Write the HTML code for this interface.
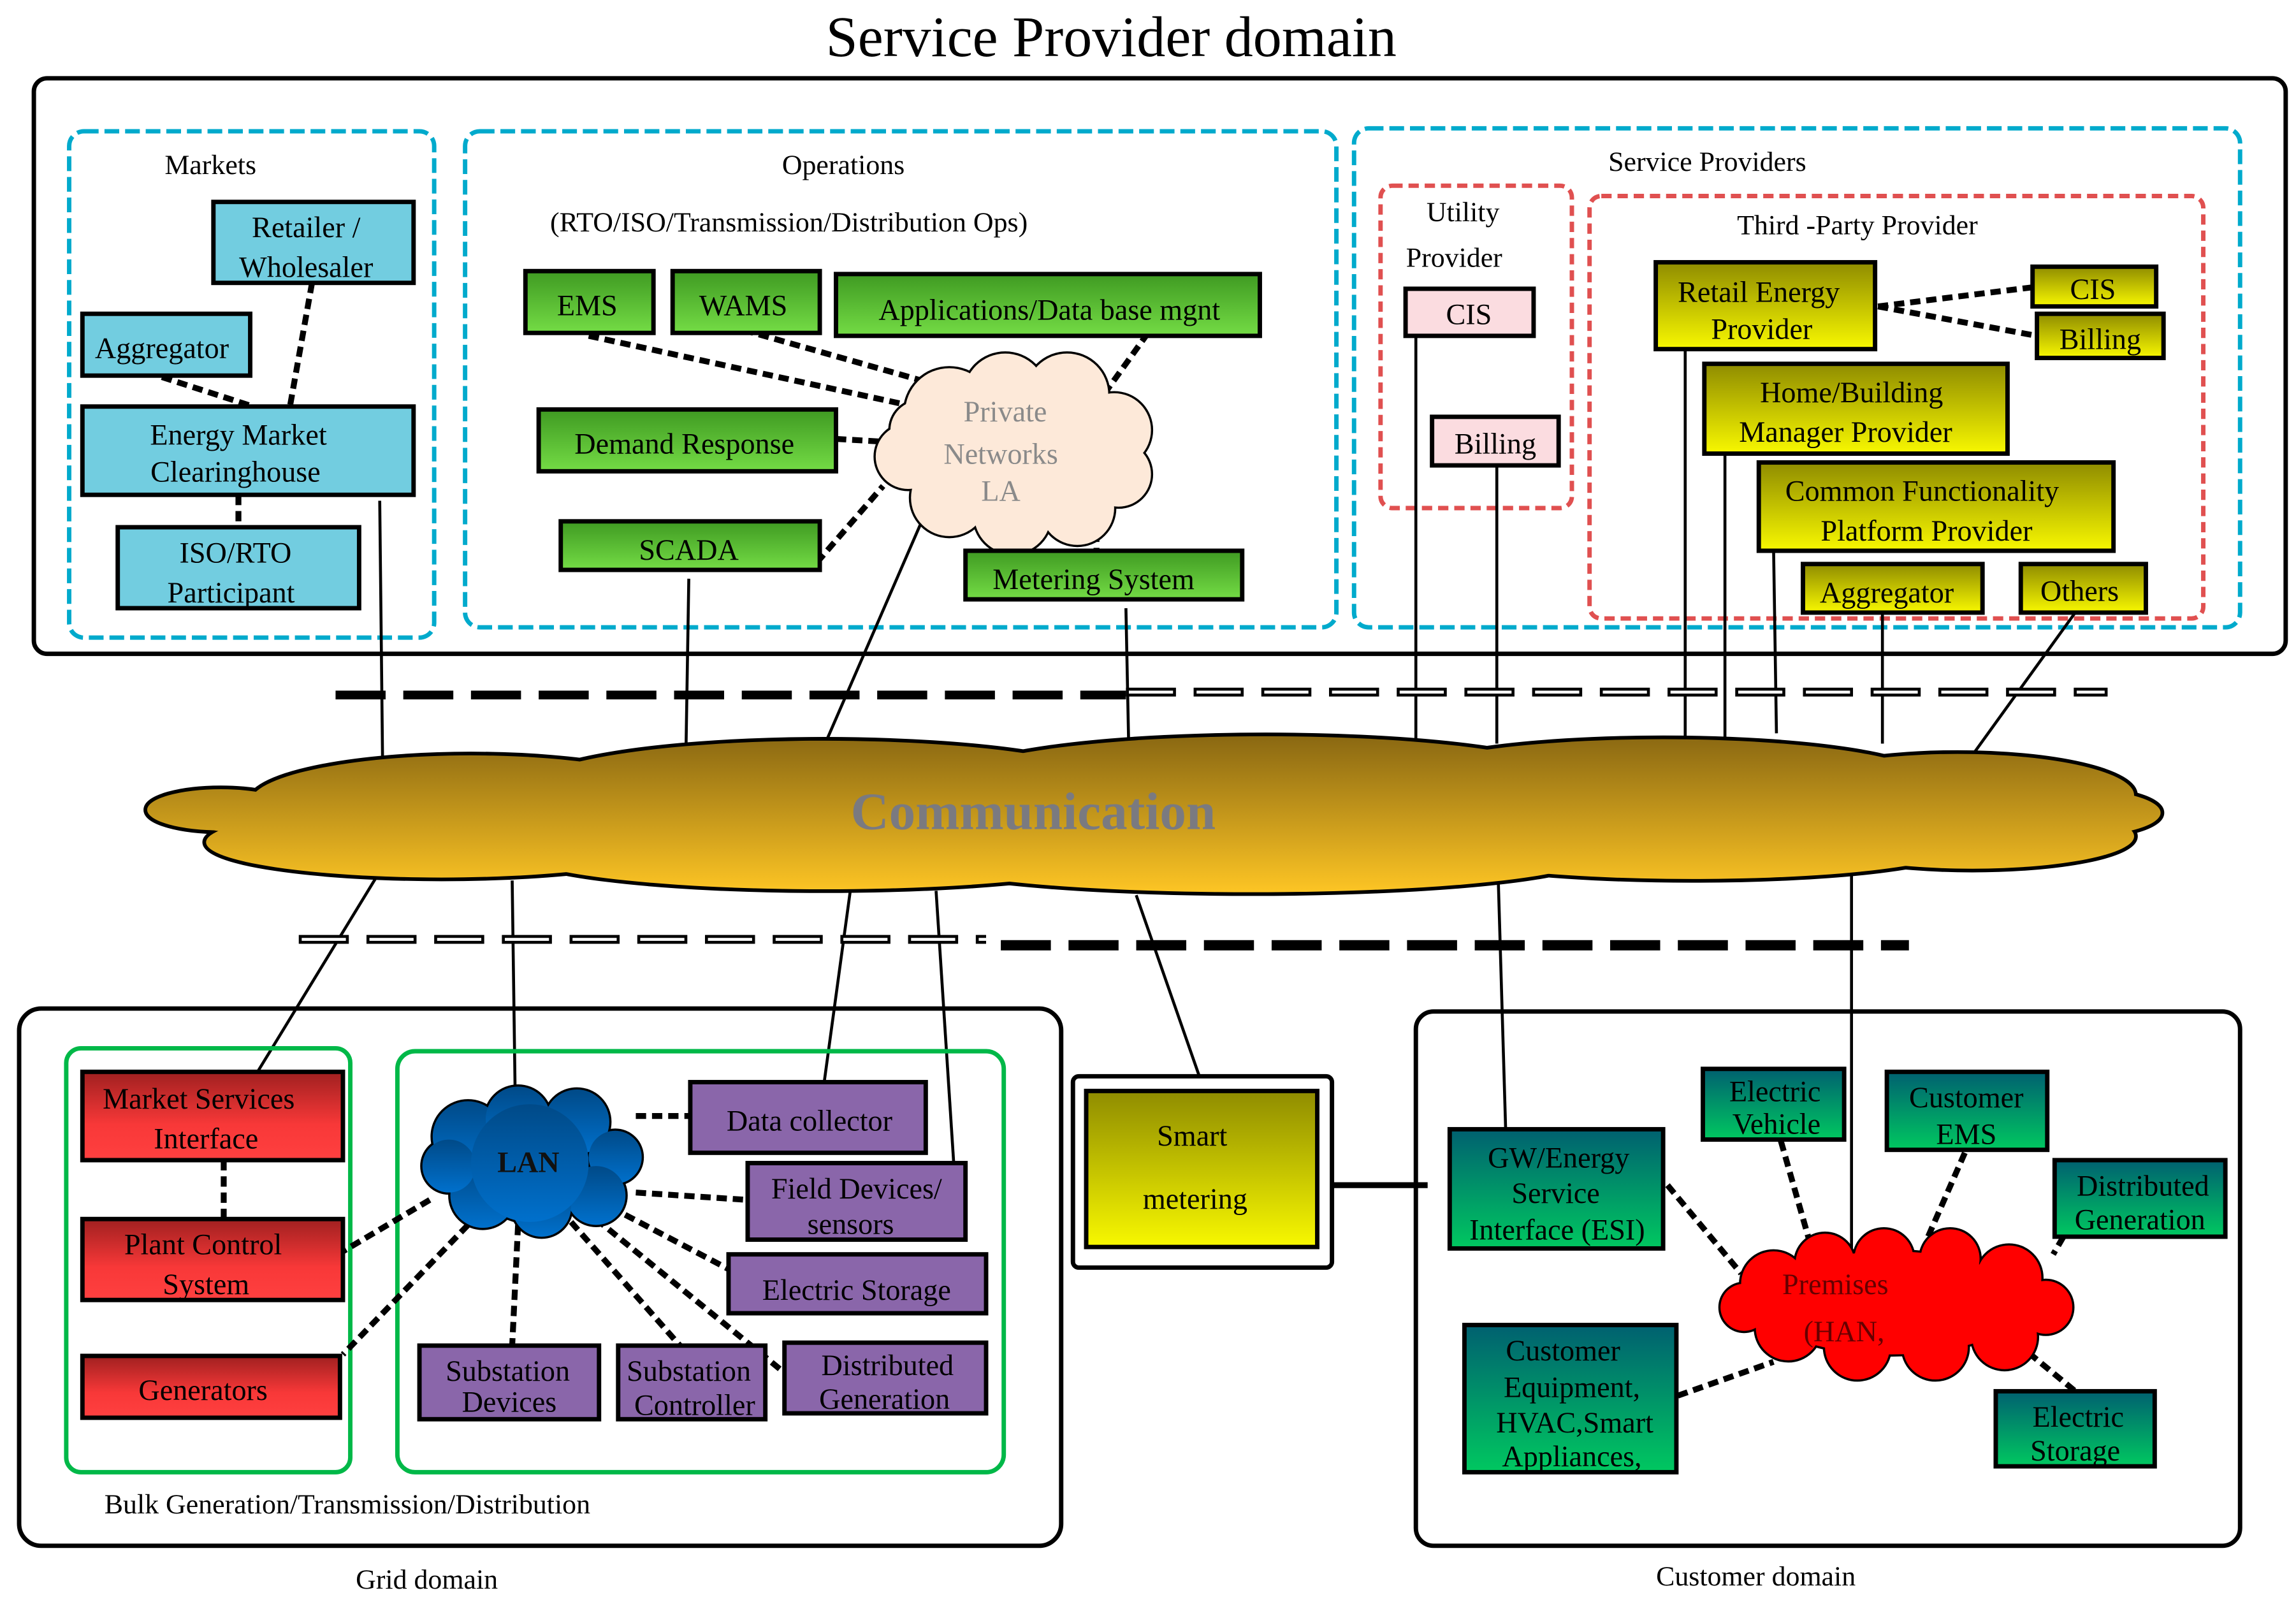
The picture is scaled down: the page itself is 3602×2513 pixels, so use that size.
<!DOCTYPE html>
<html><head><meta charset="utf-8"><style>
html,body{margin:0;padding:0;background:#fff}
svg{display:block}
text{font-family:"Liberation Serif",serif;fill:#000}
</style></head><body>
<svg width="3602" height="2513" viewBox="0 0 1560 1088" xmlns="http://www.w3.org/2000/svg">
<defs>
<linearGradient id="gG" x1="0" y1="0" x2="0" y2="1"><stop offset="0" stop-color="#3f9a22"/><stop offset="1" stop-color="#74dc45"/></linearGradient>
<linearGradient id="gY" x1="0" y1="0" x2="0" y2="1"><stop offset="0" stop-color="#8f8c00"/><stop offset="1" stop-color="#f8f800"/></linearGradient>
<linearGradient id="gR" x1="0" y1="0" x2="0" y2="1"><stop offset="0" stop-color="#a02020"/><stop offset="0.6" stop-color="#f83838"/><stop offset="1" stop-color="#ff4040"/></linearGradient>
<linearGradient id="gT" x1="0" y1="0" x2="0" y2="1"><stop offset="0" stop-color="#006070"/><stop offset="1" stop-color="#00c860"/></linearGradient>
<linearGradient id="gC" gradientUnits="userSpaceOnUse" x1="0" y1="500" x2="0" y2="605"><stop offset="0" stop-color="#8a6812"/><stop offset="1" stop-color="#fcc424"/></linearGradient>
<linearGradient id="gL" x1="0" y1="0" x2="0" y2="1"><stop offset="0" stop-color="#004a88"/><stop offset="1" stop-color="#0070cc"/></linearGradient>
</defs>

<text x="755" y="38" font-size="39" text-anchor="middle">Service Provider domain</text>
<rect x="23" y="53" width="1530" height="391" rx="9" fill="none" stroke="#000" stroke-width="3"/>

<g fill="none" stroke="#00aacc" stroke-width="3" stroke-dasharray="10,4">
<rect x="47" y="89" width="248" height="344" rx="10"/>
<rect x="316" y="89" width="592" height="337" rx="10"/>
<rect x="920" y="87" width="602" height="339" rx="10"/>
</g>
<g fill="none" stroke="#e05050" stroke-width="3" stroke-dasharray="7,4">
<rect x="938" y="126" width="130" height="219" rx="8"/>
<rect x="1080" y="133" width="417" height="287" rx="8"/>
</g>

<g stroke="#000" stroke-width="2" fill="none">
<line x1="258" y1="340" x2="260" y2="522"/>
<line x1="468" y1="393" x2="466" y2="515"/>
<line x1="628" y1="350" x2="555" y2="518"/>
<line x1="765" y1="413" x2="767" y2="512"/>
<line x1="962" y1="225" x2="962" y2="505"/>
<line x1="1017" y1="315" x2="1017" y2="505"/>
<line x1="1145" y1="237" x2="1145" y2="505"/>
<line x1="1172" y1="308" x2="1172" y2="505"/>
<line x1="1205" y1="370" x2="1207" y2="498"/>
<line x1="1279" y1="416" x2="1279" y2="505"/>
<line x1="1410" y1="416" x2="1340" y2="513"/>
<line x1="258" y1="592" x2="175" y2="728"/>
<line x1="348" y1="598" x2="350" y2="742"/>
<line x1="578" y1="603" x2="560" y2="735"/>
<line x1="636" y1="605" x2="648" y2="790"/>
<line x1="772" y1="608" x2="818" y2="740"/>
<line x1="1018" y1="598" x2="1023" y2="767"/>
<line x1="1258" y1="590" x2="1258" y2="855"/>
</g>

<line x1="228" y1="472" x2="765" y2="472" stroke="#000" stroke-width="6" stroke-dasharray="34,12"/>
<line x1="765" y1="470" x2="1432" y2="470" stroke="#000" stroke-width="6" stroke-dasharray="34,12"/>
<line x1="767" y1="470" x2="1430" y2="470" stroke="#fff" stroke-width="2" stroke-dasharray="30,16"/>
<line x1="203" y1="638" x2="670" y2="638" stroke="#000" stroke-width="6" stroke-dasharray="34,12"/>
<line x1="205" y1="638" x2="670" y2="638" stroke="#fff" stroke-width="2" stroke-dasharray="30,16"/>
<line x1="680" y1="642" x2="1297" y2="642" stroke="#000" stroke-width="7" stroke-dasharray="34,12"/>

<g stroke="#000" stroke-width="5">
<ellipse cx="150" cy="550" rx="50" ry="14"/><ellipse cx="320" cy="545" rx="150" ry="32"/><ellipse cx="560" cy="535" rx="200" ry="32"/><ellipse cx="860" cy="530" rx="210" ry="30"/><ellipse cx="1130" cy="530" rx="180" ry="28"/><ellipse cx="1330" cy="540" rx="120" ry="28"/><ellipse cx="1410" cy="552" rx="58" ry="16"/><ellipse cx="300" cy="572" rx="160" ry="24"/><ellipse cx="560" cy="578" rx="210" ry="26"/><ellipse cx="850" cy="582" rx="230" ry="24"/><ellipse cx="1150" cy="575" rx="180" ry="22"/><ellipse cx="1340" cy="568" rx="110" ry="22"/><ellipse cx="760" cy="555" rx="640" ry="32"/>
</g>
<g fill="url(#gC)">
<ellipse cx="150" cy="550" rx="50" ry="14"/><ellipse cx="320" cy="545" rx="150" ry="32"/><ellipse cx="560" cy="535" rx="200" ry="32"/><ellipse cx="860" cy="530" rx="210" ry="30"/><ellipse cx="1130" cy="530" rx="180" ry="28"/><ellipse cx="1330" cy="540" rx="120" ry="28"/><ellipse cx="1410" cy="552" rx="58" ry="16"/><ellipse cx="300" cy="572" rx="160" ry="24"/><ellipse cx="560" cy="578" rx="210" ry="26"/><ellipse cx="850" cy="582" rx="230" ry="24"/><ellipse cx="1150" cy="575" rx="180" ry="22"/><ellipse cx="1340" cy="568" rx="110" ry="22"/><ellipse cx="760" cy="555" rx="640" ry="32"/>
</g>
<text x="702" y="563" font-size="36" font-weight="bold" text-anchor="middle" style="fill:#7a7a80">Communication</text>

<text x="143" y="118" font-size="19" text-anchor="middle">Markets</text>
<g fill="#72cde0" stroke="#000" stroke-width="3">
<rect x="145" y="137" width="136" height="55"/>
<rect x="56" y="213" width="114" height="42"/>
<rect x="56" y="276" width="225" height="60"/>
<rect x="80" y="358" width="164" height="55"/>
</g>
<g font-size="20" text-anchor="middle">
<text x="208" y="161">Retailer /</text><text x="208" y="188">Wholesaler</text>
<text x="110" y="243">Aggregator</text>
<text x="162" y="302">Energy Market</text><text x="160" y="327">Clearinghouse</text>
<text x="160" y="382">ISO/RTO</text><text x="157" y="409">Participant</text>
</g>
<g stroke="#000" stroke-width="4" stroke-dasharray="7,4" fill="none">
<line x1="212" y1="192" x2="197" y2="276"/>
<line x1="110" y1="256" x2="172" y2="276"/>
<line x1="162" y1="336" x2="162" y2="358"/>
</g>

<text x="573" y="118" font-size="19" text-anchor="middle">Operations</text>
<text x="536" y="157" font-size="19" text-anchor="middle">(RTO/ISO/Transmission/Distribution Ops)</text>
<g stroke="#000" stroke-width="4" stroke-dasharray="7,4" fill="none">
<line x1="400" y1="228" x2="612" y2="274"/>
<line x1="505" y1="224" x2="625" y2="258"/>
<line x1="780" y1="226" x2="752" y2="265"/>
<line x1="568" y1="298" x2="602" y2="300"/>
<line x1="555" y1="382" x2="600" y2="330"/>
<line x1="745" y1="350" x2="745" y2="374"/>
</g>
<g stroke="#000" stroke-width="3">
<circle cx="645" cy="280" r="30"/><circle cx="683" cy="268" r="28"/><circle cx="725" cy="268" r="28"/><circle cx="757" cy="292" r="25"/><circle cx="760" cy="322" r="22"/><circle cx="732" cy="345" r="25"/><circle cx="688" cy="350" r="26"/><circle cx="645" cy="338" r="26"/><circle cx="617" cy="310" r="22"/><circle cx="625" cy="292" r="20"/><circle cx="688" cy="305" r="55"/>
</g>
<g fill="#fde9d9">
<circle cx="645" cy="280" r="30"/><circle cx="683" cy="268" r="28"/><circle cx="725" cy="268" r="28"/><circle cx="757" cy="292" r="25"/><circle cx="760" cy="322" r="22"/><circle cx="732" cy="345" r="25"/><circle cx="688" cy="350" r="26"/><circle cx="645" cy="338" r="26"/><circle cx="617" cy="310" r="22"/><circle cx="625" cy="292" r="20"/><circle cx="688" cy="305" r="55"/>
</g>
<g font-size="20" text-anchor="middle">
<text x="683" y="286" style="fill:#8a8a8a">Private</text><text x="680" y="315" style="fill:#8a8a8a">Networks</text><text x="680" y="340" style="fill:#8a8a8a">LA</text>
</g>
<g fill="url(#gG)" stroke="#000" stroke-width="3">
<rect x="357" y="184" width="87" height="42"/>
<rect x="457" y="184" width="100" height="42"/>
<rect x="568" y="186" width="288" height="42"/>
<rect x="366" y="278" width="202" height="42"/>
<rect x="381" y="354" width="176" height="33"/>
<rect x="656" y="374" width="188" height="33"/>
</g>
<g font-size="20" text-anchor="middle">
<text x="399" y="214">EMS</text><text x="505" y="214">WAMS</text>
<text x="713" y="217">Applications/Data base mgnt</text>
<text x="465" y="308">Demand Response</text>
<text x="468" y="380">SCADA</text>
<text x="743" y="400">Metering System</text>
</g>

<text x="1160" y="116" font-size="19" text-anchor="middle">Service Providers</text>
<text x="994" y="150" font-size="19" text-anchor="middle">Utility</text>
<text x="988" y="181" font-size="19" text-anchor="middle">Provider</text>
<text x="1262" y="159" font-size="19" text-anchor="middle">Third    -Party Provider</text>
<g fill="#fbdce0" stroke="#000" stroke-width="3">
<rect x="955" y="196" width="87" height="32"/>
<rect x="973" y="283" width="86" height="33"/>
</g>
<g stroke="#000" stroke-width="4" stroke-dasharray="7,4" fill="none">
<line x1="1276" y1="208" x2="1381" y2="195"/>
<line x1="1276" y1="208" x2="1384" y2="228"/>
</g>
<g fill="url(#gY)" stroke="#000" stroke-width="3">
<rect x="1125" y="178" width="149" height="59"/>
<rect x="1381" y="181" width="84" height="27"/>
<rect x="1384" y="213" width="86" height="30"/>
<rect x="1158" y="247" width="206" height="61"/>
<rect x="1195" y="314" width="241" height="60"/>
<rect x="1225" y="383" width="122" height="33"/>
<rect x="1373" y="383" width="85" height="33"/>
</g>
<g font-size="20" text-anchor="middle">
<text x="998" y="220">CIS</text><text x="1016" y="308">Billing</text>
<text x="1195" y="205">Retail Energy</text><text x="1197" y="230">Provider</text>
<text x="1422" y="203">CIS</text><text x="1427" y="237">Billing</text>
<text x="1258" y="273">Home/Building</text><text x="1254" y="300">Manager Provider</text>
<text x="1306" y="340">Common Functionality</text><text x="1309" y="367">Platform Provider</text>
<text x="1282" y="409">Aggregator</text><text x="1413" y="408">Others</text>
</g>

<rect x="13" y="685" width="708" height="365" rx="15" fill="none" stroke="#000" stroke-width="3"/>
<g fill="none" stroke="#00b848" stroke-width="3">
<rect x="45" y="712" width="193" height="288" rx="10"/>
<rect x="270" y="714" width="412" height="286" rx="12"/>
</g>
<text x="236" y="1028" font-size="19" text-anchor="middle">Bulk Generation/Transmission/Distribution</text>
<text x="290" y="1079" font-size="19" text-anchor="middle">Grid domain</text>
<g stroke="#000" stroke-width="4" stroke-dasharray="7,4" fill="none">
<line x1="152" y1="788" x2="152" y2="828"/>
<line x1="432" y1="758" x2="469" y2="758"/>
<line x1="432" y1="810" x2="508" y2="815"/>
<line x1="415" y1="820" x2="495" y2="862"/>
<line x1="405" y1="828" x2="530" y2="930"/>
<line x1="388" y1="830" x2="462" y2="914"/>
<line x1="352" y1="832" x2="348" y2="914"/>
<line x1="292" y1="815" x2="233" y2="850"/>
<line x1="318" y1="832" x2="233" y2="920"/>
</g>
<g stroke="#000" stroke-width="3">
<circle cx="318" cy="772" r="24"/><circle cx="352" cy="760" r="22"/><circle cx="392" cy="762" r="22"/><circle cx="418" cy="786" r="18"/><circle cx="405" cy="812" r="20"/><circle cx="368" cy="820" r="20"/><circle cx="328" cy="812" r="22"/><circle cx="305" cy="792" r="18"/><circle cx="360" cy="790" r="40"/>
</g>
<g fill="url(#gL)">
<circle cx="318" cy="772" r="24"/><circle cx="352" cy="760" r="22"/><circle cx="392" cy="762" r="22"/><circle cx="418" cy="786" r="18"/><circle cx="405" cy="812" r="20"/><circle cx="368" cy="820" r="20"/><circle cx="328" cy="812" r="22"/><circle cx="305" cy="792" r="18"/><circle cx="360" cy="790" r="40"/>
</g>
<text x="359" y="796" font-size="20" font-weight="bold" text-anchor="middle" style="fill:#111">LAN</text>
<g fill="url(#gR)" stroke="#000" stroke-width="3">
<rect x="56" y="728" width="177" height="60"/>
<rect x="56" y="828" width="177" height="55"/>
<rect x="56" y="921" width="175" height="42"/>
</g>
<g fill="#8a66aa" stroke="#000" stroke-width="3">
<rect x="469" y="735" width="160" height="48"/>
<rect x="508" y="790" width="148" height="52"/>
<rect x="495" y="852" width="175" height="40"/>
<rect x="285" y="914" width="122" height="50"/>
<rect x="420" y="914" width="100" height="50"/>
<rect x="533" y="912" width="137" height="48"/>
</g>
<g font-size="20" text-anchor="middle">
<text x="135" y="753">Market Services</text><text x="140" y="780">Interface</text>
<text x="138" y="852">Plant Control</text><text x="140" y="879">System</text>
<text x="138" y="951">Generators</text>
<text x="550" y="768">Data collector</text>
<text x="582" y="814">Field Devices/</text><text x="578" y="838">sensors</text>
<text x="582" y="883">Electric Storage</text>
<text x="345" y="938">Substation</text><text x="346" y="959">Devices</text>
<text x="468" y="938">Substation</text><text x="472" y="961">Controller</text>
<text x="603" y="934">Distributed</text><text x="601" y="957">Generation</text>
</g>

<rect x="729" y="731" width="176" height="130" rx="4" fill="#fff" stroke="#000" stroke-width="3"/>
<rect x="738" y="741" width="157" height="106" fill="url(#gY)" stroke="#000" stroke-width="3"/>
<text x="810" y="778" font-size="20" text-anchor="middle">Smart</text>
<text x="812" y="821" font-size="20" text-anchor="middle">metering</text>
<line x1="905" y1="805" x2="970" y2="805" stroke="#000" stroke-width="4"/>

<rect x="962" y="687" width="560" height="363" rx="12" fill="none" stroke="#000" stroke-width="3"/>
<text x="1193" y="1077" font-size="19" text-anchor="middle">Customer domain</text>
<g stroke="#000" stroke-width="4" stroke-dasharray="7,4" fill="none">
<line x1="1133" y1="805" x2="1183" y2="865"/>
<line x1="1210" y1="775" x2="1230" y2="845"/>
<line x1="1335" y1="783" x2="1310" y2="840"/>
<line x1="1402" y1="840" x2="1395" y2="852"/>
<line x1="1140" y1="948" x2="1205" y2="925"/>
<line x1="1370" y1="912" x2="1410" y2="945"/>
</g>
<g stroke="#000" stroke-width="3">
<circle cx="1205" cy="872" r="22"/><circle cx="1240" cy="858" r="20"/><circle cx="1280" cy="855" r="20"/><circle cx="1325" cy="855" r="20"/><circle cx="1365" cy="868" r="22"/><circle cx="1390" cy="888" r="18"/><circle cx="1362" cy="908" r="22"/><circle cx="1315" cy="915" r="22"/><circle cx="1262" cy="915" r="22"/><circle cx="1215" cy="902" r="22"/><circle cx="1185" cy="888" r="16"/><ellipse cx="1285" cy="885" rx="90" ry="35"/>
</g>
<g fill="#ff0000">
<circle cx="1205" cy="872" r="22"/><circle cx="1240" cy="858" r="20"/><circle cx="1280" cy="855" r="20"/><circle cx="1325" cy="855" r="20"/><circle cx="1365" cy="868" r="22"/><circle cx="1390" cy="888" r="18"/><circle cx="1362" cy="908" r="22"/><circle cx="1315" cy="915" r="22"/><circle cx="1262" cy="915" r="22"/><circle cx="1215" cy="902" r="22"/><circle cx="1185" cy="888" r="16"/><ellipse cx="1285" cy="885" rx="90" ry="35"/>
</g>
<text x="1247" y="879" font-size="20" text-anchor="middle" style="fill:#600">Premises</text>
<text x="1253" y="911" font-size="20" text-anchor="middle" style="fill:#600">(HAN,</text>
<g fill="url(#gT)" stroke="#000" stroke-width="3">
<rect x="985" y="767" width="145" height="81"/>
<rect x="1157" y="726" width="96" height="48"/>
<rect x="1282" y="728" width="109" height="53"/>
<rect x="1396" y="788" width="116" height="52"/>
<rect x="995" y="900" width="144" height="100"/>
<rect x="1356" y="945" width="108" height="51"/>
</g>
<g font-size="20" text-anchor="middle">
<text x="1059" y="793">GW/Energy</text><text x="1057" y="817">Service</text><text x="1058" y="842">Interface (ESI)</text>
<text x="1206" y="748">Electric</text><text x="1207" y="770">Vehicle</text>
<text x="1336" y="752">Customer</text><text x="1336" y="777">EMS</text>
<text x="1456" y="812">Distributed</text><text x="1454" y="835">Generation</text>
<text x="1062" y="924">Customer</text><text x="1068" y="949">Equipment,</text><text x="1070" y="973">HVAC,Smart</text><text x="1068" y="996">Appliances,</text>
<text x="1412" y="969">Electric</text><text x="1410" y="992">Storage</text>
</g>
</svg>
</body></html>
